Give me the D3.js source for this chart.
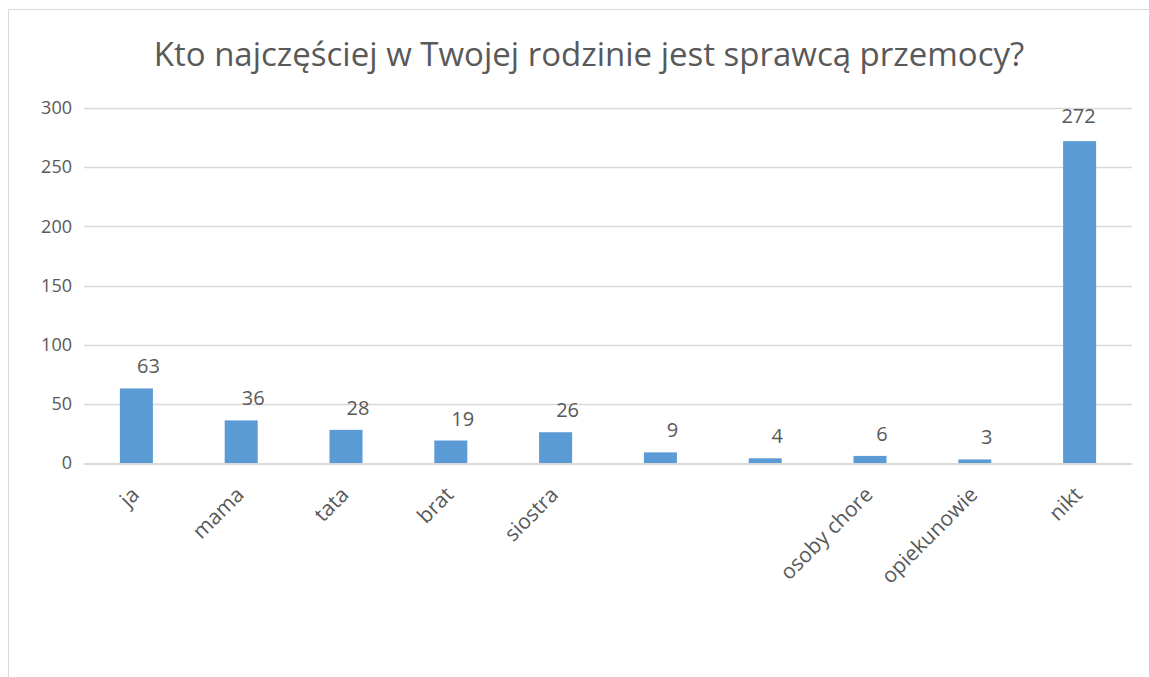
<!DOCTYPE html>
<html>
<head>
<meta charset="utf-8">
<script src="https://cdn.jsdelivr.net/npm/d3@7"></script>
<style>
  html, body { margin: 0; padding: 0; background: #fff; }
  svg { display: block; }
  text { font-family: "Open Sans", "Noto Sans", sans-serif; fill: #595959; }
</style>
</head>
<body>
<svg id="chart" width="1149" height="677"></svg>
<script>
// Answers to the survey question
const title = "Kto najczęściej w Twojej rodzinie jest sprawcą przemocy?";
const categories = ["ja", "mama", "tata", "brat", "siostra", "", " ", "osoby chore", "opiekunowie", "nikt"];
const values = [63, 36, 28, 19, 26, 9, 4, 6, 3, 272];
const yTicks = [0, 50, 100, 150, 200, 250, 300];

const W = 1149, H = 677;
const margin = { left: 84, right: 17, top: 108, bottom: 214 };
const svg = d3.select("#chart");

// Chart frame
svg.append("rect")
  .attr("x", 8.5).attr("y", 9.5)
  .attr("width", W + 10).attr("height", H + 10)
  .attr("fill", "#fff").attr("stroke", "#d9d9d9").attr("stroke-width", 1);

const x = d3.scaleBand()
  .domain(categories)
  .range([margin.left, W - margin.right])
  .paddingInner(0.685).paddingOuter(0.3425);

const y = d3.scaleLinear()
  .domain([0, 300])
  .range([H - margin.bottom, margin.top]);

// Horizontal gridlines
svg.append("g")
  .selectAll("line")
  .data(yTicks.filter(t => t > 0))
  .join("line")
  .attr("x1", margin.left).attr("x2", W - margin.right)
  .attr("y1", d => Math.round(y(d)) + 0.5).attr("y2", d => Math.round(y(d)) + 0.5)
  .attr("stroke", "#d9d9d9").attr("stroke-width", 1.3);

// Y axis labels
const yAxis = d3.axisLeft(y).tickValues(yTicks).tickSize(0).tickPadding(12);
const gy = svg.append("g")
  .attr("transform", `translate(${margin.left},0)`)
  .call(yAxis);
gy.select(".domain").remove();
gy.attr("font-size", null).attr("font-family", null);
gy.selectAll("text")
  .style("font-size", "18px")
  .attr("fill", "#595959");

// Bars
svg.append("g")
  .selectAll("rect")
  .data(values)
  .join("rect")
  .attr("x", (d, i) => x(categories[i]))
  .attr("y", d => y(d))
  .attr("width", x.bandwidth())
  .attr("height", d => y(0) - y(d))
  .attr("fill", "#5b9bd5");

// Baseline
svg.append("line")
  .attr("x1", margin.left).attr("x2", W - margin.right)
  .attr("y1", y(0) + 1).attr("y2", y(0) + 1)
  .attr("stroke", "#d9d9d9").attr("stroke-width", 2);

// Value labels
const maxV = d3.max(values);
svg.append("g")
  .selectAll("text")
  .data(values)
  .join("text")
  .attr("x", (d, i) => x(categories[i]) + x.bandwidth() / 2 + (d === maxV ? -1 : 12))
  .attr("y", d => y(d) - (d === maxV ? 18 : 15))
  .attr("text-anchor", "middle")
  .style("font-size", "20px")
  .text(d => d);

// Category labels, rotated
svg.append("g")
  .selectAll("text")
  .data(categories)
  .join("text")
  .attr("transform", (d, i) => `translate(${x(d) + x.bandwidth() / 2 + 4},${y(0) + 33}) rotate(-45)`)
  .attr("text-anchor", "end")
  .style("font-size", "21px")
  .text(d => d.trim());

// Title
svg.append("text")
  .attr("x", 589).attr("y", 66)
  .attr("text-anchor", "middle")
  .style("font-size", "33px")
  .text(title);
</script>
</body>
</html>
